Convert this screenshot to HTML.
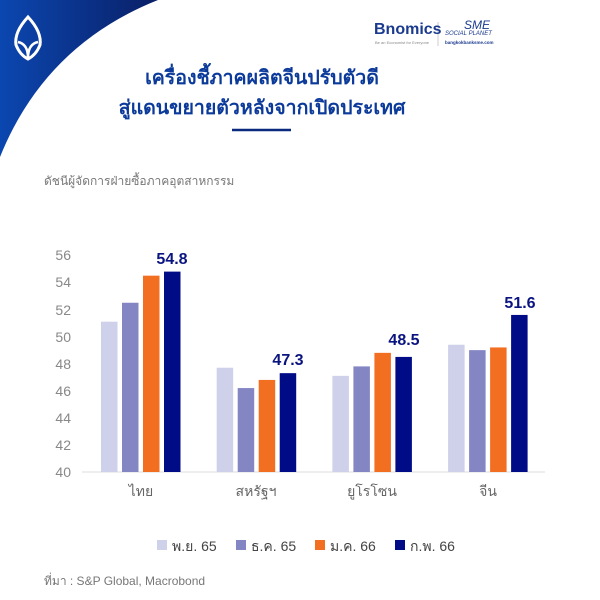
<!DOCTYPE html>
<html><head><meta charset="utf-8"><style>
body{margin:0;width:600px;height:600px;background:#fff;font-family:"Liberation Sans","Noto Sans CJK SC",sans-serif;position:relative;overflow:hidden}
.t{position:absolute;white-space:nowrap}
</style></head><body>
<svg width="600" height="600" style="position:absolute;left:0;top:0">
<defs><linearGradient id="g" x1="0" y1="0" x2="1" y2="0"><stop offset="0" stop-color="#0b47b0"/><stop offset="1" stop-color="#0a1f66"/></linearGradient></defs>
<path d="M0,0 L158,0 Q45,45 0,157 Z" fill="url(#g)"/>
<path d="M28,17 Q14,32 16,45 Q20,55 28,59 Q36,55 40,45 Q42,32 28,17 Z" fill="none" stroke="#fff" stroke-width="3"/>
<path d="M18,42 Q28,44 28,58 Q28,44 38,42" fill="none" stroke="#fff" stroke-width="2.5"/>
<line x1="232" y1="130" x2="291" y2="130" stroke="#0a2a80" stroke-width="2.5"/>
<line x1="438" y1="22" x2="438" y2="46" stroke="#ccc" stroke-width="1"/>
<g font-family="Liberation Sans" font-size="14" fill="#888">
<text x="71" y="477" text-anchor="end">40</text>
<text x="71" y="450" text-anchor="end">42</text>
<text x="71" y="423" text-anchor="end">44</text>
<text x="71" y="396" text-anchor="end">46</text>
<text x="71" y="369" text-anchor="end">48</text>
<text x="71" y="342" text-anchor="end">50</text>
<text x="71" y="315" text-anchor="end">52</text>
<text x="71" y="287" text-anchor="end">54</text>
<text x="71" y="260" text-anchor="end">56</text>
</g>
<line x1="82" y1="472" x2="545" y2="472" stroke="#ddd" stroke-width="1"/>
<g id="bars"></g>
<g font-family="Liberation Sans,Noto Sans CJK SC,sans-serif" font-size="14" fill="#666" text-anchor="middle">
<text x="141" y="496">ไทย</text><text x="256" y="496">สหรัฐฯ</text><text x="372" y="496">ยูโรโซน</text><text x="488" y="496">จีน</text>
</g>
<g font-family="Liberation Sans" font-size="16" font-weight="bold" fill="#0a1480" text-anchor="middle">
<text x="172" y="264">54.8</text><text x="288" y="365">47.3</text><text x="404" y="345">48.5</text><text x="520" y="308">51.6</text>
</g>
<rect x="157" y="540" width="10" height="10" fill="#cfd0ea"/>
<rect x="236" y="540" width="10" height="10" fill="#8486c4"/>
<rect x="315" y="540" width="10" height="10" fill="#f26f21"/>
<rect x="395" y="540" width="10" height="10" fill="#000c86"/>
</svg>
<div class="t" style="left:374px;top:21px;font-size:16px;font-weight:bold;color:#1a3a8e">Bnomics</div>
<div class="t" style="left:375px;top:40px;font-size:4px;color:#888">Be an Economist for Everyone</div>
<div class="t" style="left:464px;top:18px;font-size:12px;font-style:italic;color:#1a3a8e">SME</div>
<div class="t" style="left:445px;top:31px;font-size:6px;font-style:italic;color:#1a3a8e">SOCIAL PLANET</div>
<div class="t" style="left:445px;top:40px;font-size:4.5px;font-weight:bold;color:#1a3a8e">bangkokbanksme.com</div>
<div class="t" style="left:0;width:524px;top:63px;text-align:center;font-size:19.5px;font-weight:bold;color:#0b3a9a;line-height:30px">เครื่องชี้ภาคผลิตจีนปรับตัวดี<br>สู่แดนขยายตัวหลังจากเปิดประเทศ</div>
<div class="t" style="left:44px;top:172px;font-size:12px;color:#777">ดัชนีผู้จัดการฝ่ายซื้อภาคอุตสาหกรรม</div>
<div class="t" style="left:172px;top:536px;font-size:14px;color:#444">พ.ย. 65</div>
<div class="t" style="left:251px;top:536px;font-size:14px;color:#444">ธ.ค. 65</div>
<div class="t" style="left:330px;top:536px;font-size:14px;color:#444">ม.ค. 66</div>
<div class="t" style="left:410px;top:536px;font-size:14px;color:#444">ก.พ. 66</div>
<div class="t" style="left:44px;top:572px;font-size:12px;color:#777">ที่มา : S&amp;P Global, Macrobond</div>
<script>
var d=[[51.1,52.5,54.5,54.8],[47.7,46.2,46.8,47.3],[47.1,47.8,48.8,48.5],[49.4,49.0,49.2,51.6]];
var c=["#cfd0ea","#8486c4","#f26f21","#000c86"],s="";
for(var g=0;g<4;g++)for(var i=0;i<4;i++){var v=d[g][i],y=472-(v-40)*13.54,x=101+g*115.7+i*21;
s+='<rect x="'+x+'" y="'+y+'" width="16.5" height="'+(472-y)+'" fill="'+c[i]+'"/>';}
document.getElementById("bars").innerHTML=s;
</script>
</body></html>
